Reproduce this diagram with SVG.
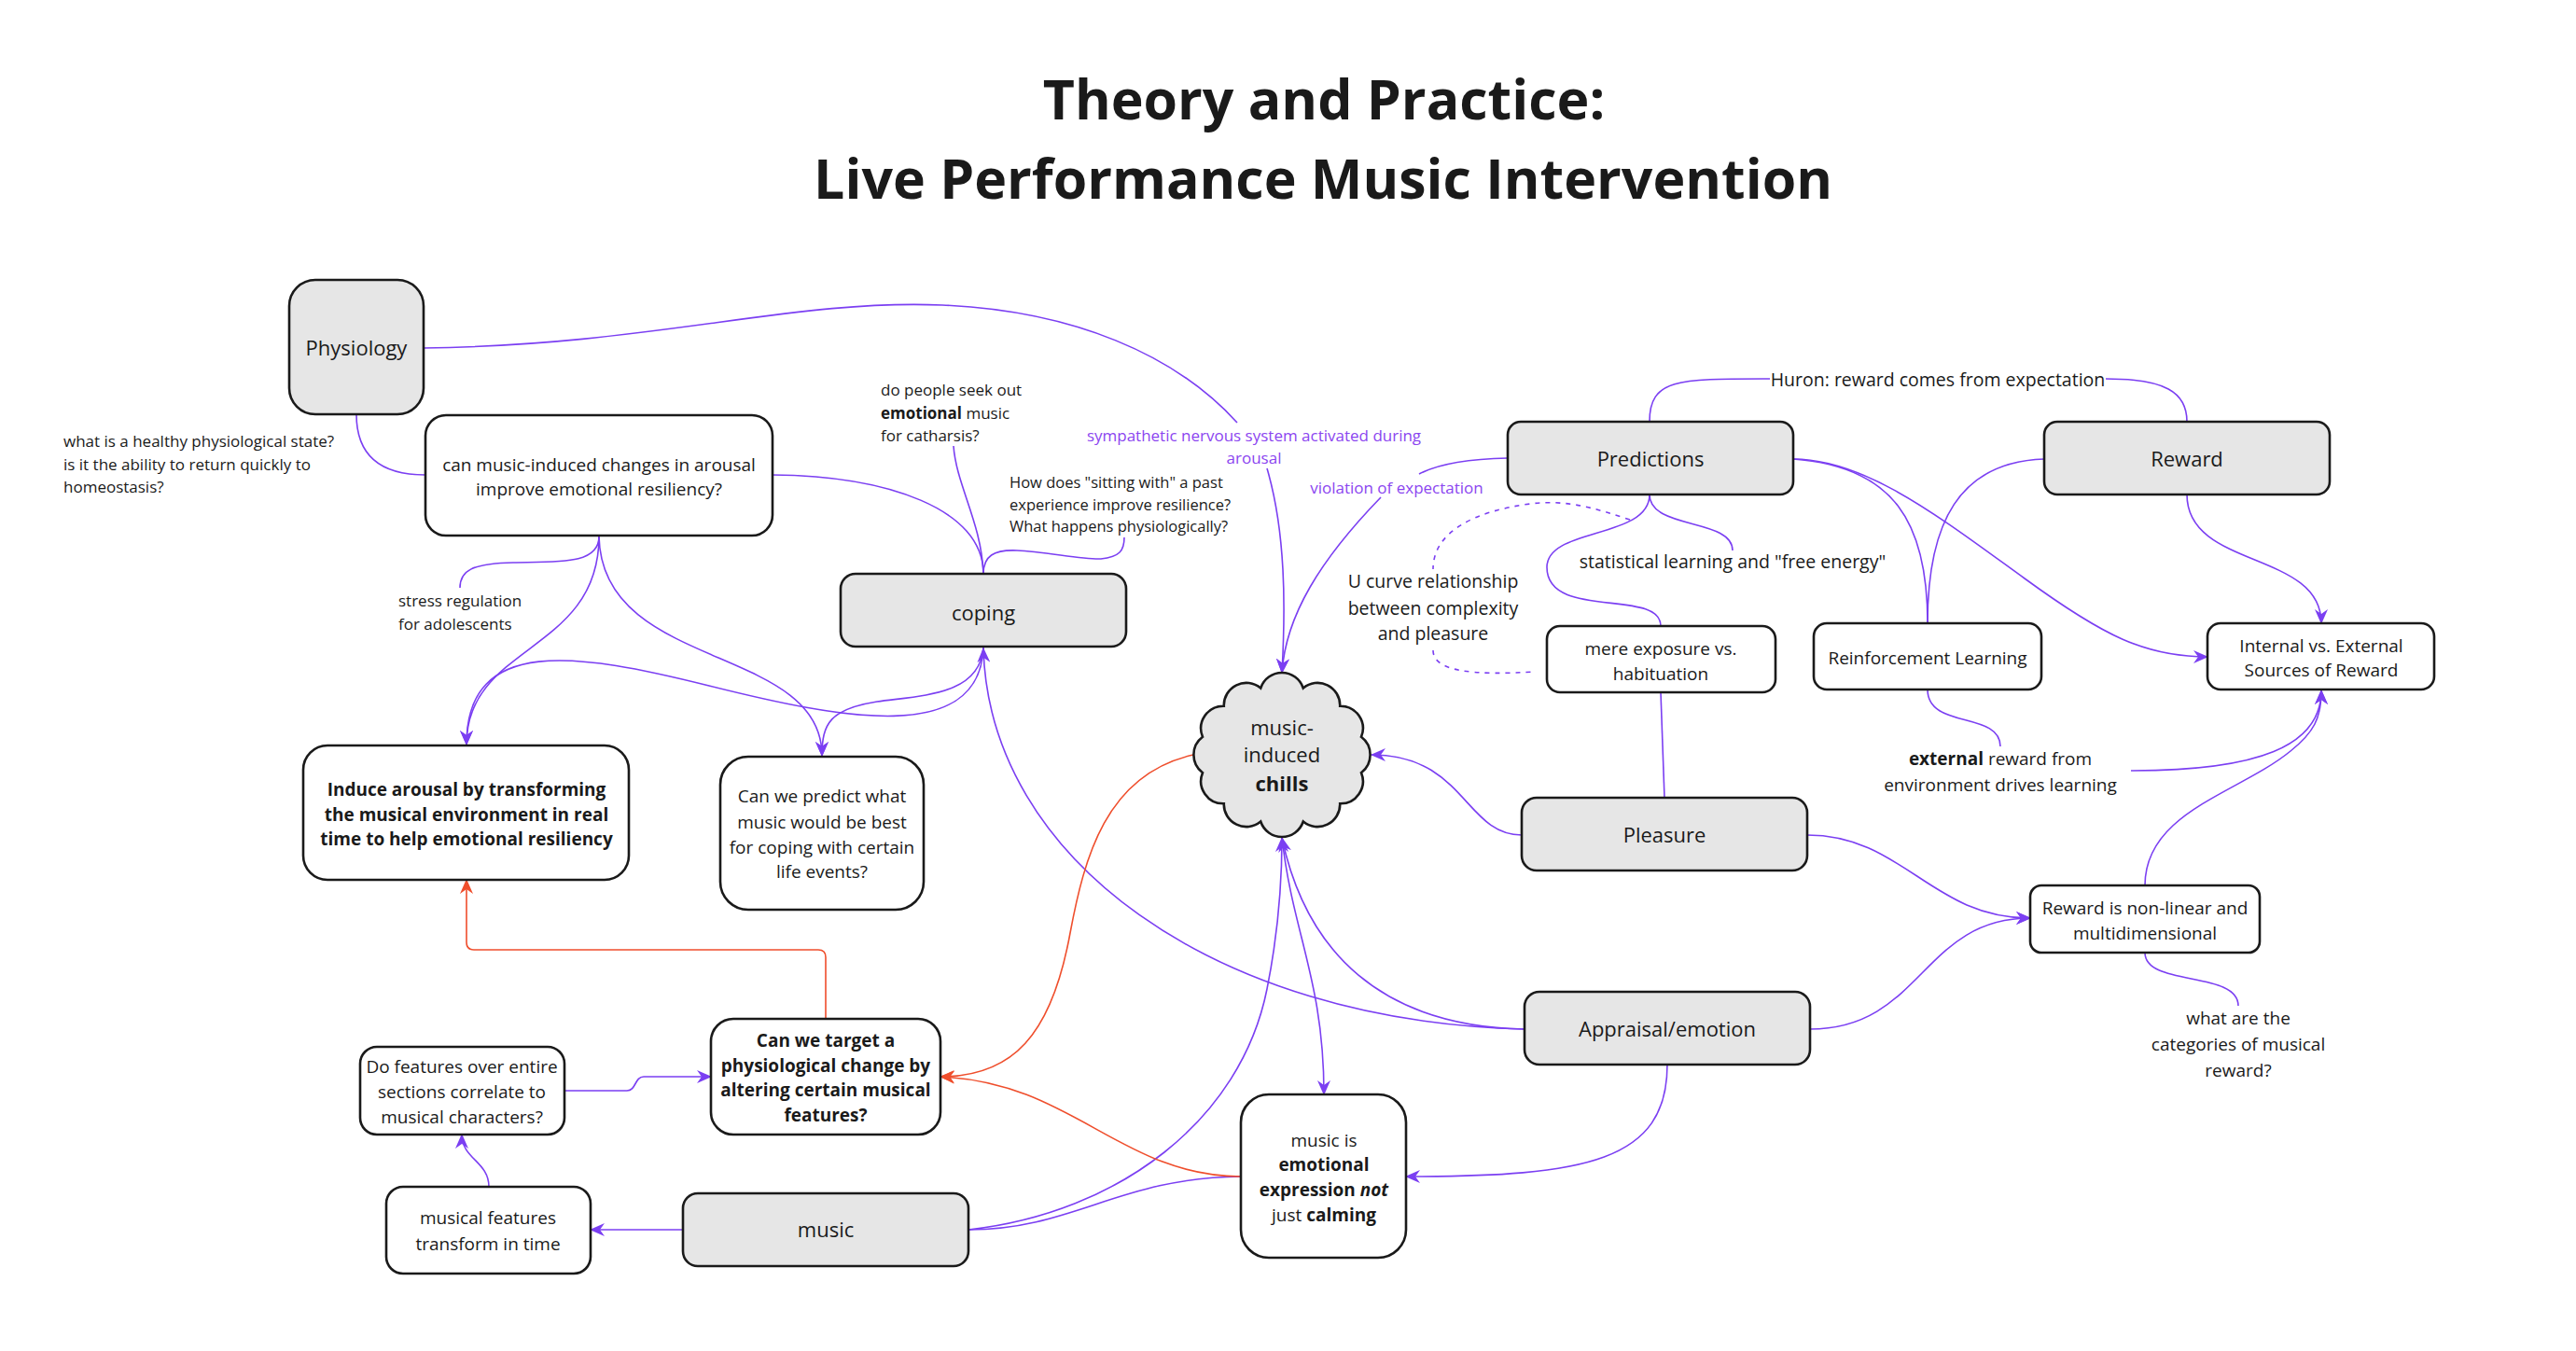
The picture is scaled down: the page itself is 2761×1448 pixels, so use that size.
<svg xmlns="http://www.w3.org/2000/svg" width="2761" height="1448" viewBox="0 0 2761 1448">
<defs>
<style>
.n{fill:#ffffff;stroke:#1a1a1a;stroke-width:2.6}
.g{fill:#e6e6e6;stroke:#1a1a1a;stroke-width:2.6}
.c{fill:none;stroke:#7b3ff2;stroke-width:1.6}
.r{fill:none;stroke:#ef4e2c;stroke-width:1.6}
.d{fill:none;stroke:#7b3ff2;stroke-width:1.6;stroke-dasharray:5 6}
.a{marker-end:url(#ap)}
.ar{marker-end:url(#ar)}
text{font-family:"Open Sans","Noto Sans",sans-serif;fill:#1a1a1a}
.t22{font-size:22px;text-anchor:middle}
.t19{font-size:19px;text-anchor:middle}
.t195{font-size:19.5px;text-anchor:middle}
.t17{font-size:17px}
.t165{font-size:16.5px}
.p{fill:#8b45f0}
.b{font-weight:bold}
.title{font-size:59px;font-weight:bold;text-anchor:middle}
</style>
<marker id="ap" viewBox="0 0 16 14" refX="15" refY="7" markerWidth="16" markerHeight="14" markerUnits="userSpaceOnUse" orient="auto"><path d="M0,0 L16,7 L0,14 L5,7 Z" fill="#7b3ff2"/></marker>
<marker id="ar" viewBox="0 0 16 14" refX="15" refY="7" markerWidth="16" markerHeight="14" markerUnits="userSpaceOnUse" orient="auto"><path d="M0,0 L16,7 L0,14 L5,7 Z" fill="#ef4e2c"/></marker>
</defs>
<rect width="2761" height="1448" fill="#ffffff"/>

<g id="title">
<text class="title" x="1419" y="128">Theory and Practice:</text>
<text class="title" x="1418" y="213">Live Performance Music Intervention</text>
</g>

<g id="connectors">
<path class="c" d="M382,444 C382,490 410,509 456,509"/>
<path class="c" d="M454,373 C700,370 850,320 1010,327 C1150,333 1260,380 1326,453"/>
<path class="c a" d="M1358,502 C1378,570 1378,650 1374,721"/>
<path class="c" d="M1616,491 C1570,492 1540,498 1521,508"/>
<path class="c a" d="M1480,533 C1415,600 1378,660 1374,721"/>
<path class="c" d="M828,509 C950,510 1054,545 1054,615"/>
<path class="c" d="M1054,615 C1052,560 1025,520 1022,478"/>
<path class="c" d="M1054,615 C1054,596 1065,589 1090,590 C1120,591 1160,600 1180,599 C1200,597 1205,590 1205,576"/>
<path class="c" d="M642,575 C642,605 600,602 550,603 C505,604 493,612 493,630"/>
<path class="c a" d="M642,575 C642,700 500,690 500,798"/>
<path class="c a" d="M642,575 C645,720 881,690 881,810"/>
<path class="c a" d="M1054,694 C1050,800 900,770 760,735 C620,700 500,680 500,798"/>
<path class="c a" d="M1054,694 C1050,745 990,745 940,752 C890,760 881,775 881,810"/>
<path class="c a" d="M1634,1103 C1300,1095 1060,920 1054,695"/>
<path class="c a" d="M1634,1103 C1480,1100 1400,1020 1374,898"/>
<path class="c a" d="M1631,895 C1570,895 1570,809 1470,809"/>
<path class="c" d="M1780,742 L1784,855"/>
<path class="c" d="M1768,530 C1768,578 1658,565 1658,608 C1658,665 1780,630 1780,671"/>
<path class="c" d="M1768,530 C1768,568 1857,555 1857,590"/>
<path class="c" d="M1768,452 C1768,405 1800,406 1897,406"/>
<path class="c" d="M2257,406 C2320,406 2344,420 2344,452"/>
<path class="c a" d="M1922,492 C2000,492 2080,555 2170,620 C2255,682 2300,704 2366,704"/>
<path class="c" d="M1922,492 C2030,500 2066,560 2066,668"/>
<path class="c" d="M2191,492 C2100,495 2066,560 2066,668"/>
<path class="c a" d="M2344,530 C2344,610 2488,590 2488,668"/>
<path class="c" d="M2066,739 C2066,782 2144,762 2144,800"/>
<path class="c a" d="M2284,826 C2420,826 2488,800 2488,740"/>
<path class="c a" d="M2299,949 C2299,870 2400,850 2455,805 C2480,785 2488,770 2488,740"/>
<path class="c a" d="M1937,895 C2040,895 2070,984 2176,984"/>
<path class="c a" d="M1940,1103 C2060,1103 2060,984 2176,984"/>
<path class="c" d="M2299,1021 C2299,1058 2399,1040 2399,1078"/>
<path class="c a" d="M1787,1141 C1787,1245 1700,1261 1507,1261"/>
<path class="c a" d="M1374,897 C1385,1000 1419,1050 1419,1173"/>
<path class="c a" d="M1038,1318 C1200,1300 1330,1200 1358,1060 C1370,1000 1374,950 1374,898"/>
<path class="c" d="M1330,1261 C1200,1262 1150,1318 1038,1318"/>
<path class="c a" d="M732,1318 L633,1318"/>
<path class="c a" d="M524,1272 C524,1245 495,1242 495,1216"/>
<path class="c a" d="M605,1169 L672,1169 C682,1169 680,1154 690,1154 L762,1154"/>
<path class="r ar" d="M885,1092 L885,1026 Q885,1018 877,1018 L508,1018 Q500,1018 500,1010 L500,943"/>
<path class="r ar" d="M1279,809 C1185,830 1162,920 1147,1000 C1127,1110 1085,1154 1008,1154"/>
<path class="r ar" d="M1330,1261 C1200,1260 1150,1160 1008,1154"/>
<path class="d" d="M1747,557 C1710,545 1680,535 1640,540 C1580,548 1536,570 1536,610"/>
<path class="d" d="M1536,697 C1536,720 1580,724 1645,720"/>
</g>

<g id="physiology"><rect class="g" x="310" y="300" width="144" height="144" rx="28"/><text class="t22" x="382" y="381">Physiology</text></g>
<g id="can-music"><rect class="n" x="456" y="445" width="372" height="129" rx="22"/><text class="t19" x="642" y="505">can music-induced changes in arousal</text><text class="t19" x="642" y="531">improve emotional resiliency?</text></g>
<g id="coping"><rect class="g" x="901" y="615" width="306" height="78" rx="16"/><text class="t22" x="1054" y="665">coping</text></g>
<g id="induce"><rect class="n" x="325" y="799" width="349" height="144" rx="26"/><text class="t19 b" x="500" y="853">Induce arousal by transforming</text><text class="t19 b" x="500" y="880">the musical environment in real</text><text class="t19 b" x="500" y="906">time to help emotional resiliency</text></g>
<g id="can-predict"><rect class="n" x="772" y="811" width="218" height="164" rx="30"/><text class="t19" x="881" y="860">Can we predict what</text><text class="t19" x="881" y="888">music would be best</text><text class="t19" x="881" y="915">for coping with certain</text><text class="t19" x="881" y="941">life events?</text></g>
<g id="predictions"><rect class="g" x="1616" y="452" width="306" height="78" rx="14"/><text class="t22" x="1769" y="500">Predictions</text></g>
<g id="reward"><rect class="g" x="2191" y="452" width="306" height="78" rx="14"/><text class="t22" x="2344" y="500">Reward</text></g>
<g id="mere-exposure"><rect class="n" x="1658" y="671" width="245" height="71" rx="14"/><text class="t19" x="1780" y="702">mere exposure vs.</text><text class="t19" x="1780" y="729">habituation</text></g>
<g id="reinforcement"><rect class="n" x="1944" y="668" width="244" height="71" rx="14"/><text class="t19" x="2066" y="712">Reinforcement Learning</text></g>
<g id="internal-external"><rect class="n" x="2366" y="668" width="243" height="71" rx="14"/><text class="t19" x="2488" y="699">Internal vs. External</text><text class="t19" x="2488" y="725">Sources of Reward</text></g>
<g id="pleasure"><rect class="g" x="1631" y="855" width="306" height="78" rx="16"/><text class="t22" x="1784" y="903">Pleasure</text></g>
<g id="appraisal"><rect class="g" x="1634" y="1063" width="306" height="78" rx="16"/><text class="t22" x="1787" y="1111">Appraisal/emotion</text></g>
<g id="non-linear"><rect class="n" x="2176" y="949" width="246" height="72" rx="12"/><text class="t19" x="2299" y="980">Reward is non-linear and</text><text class="t19" x="2299" y="1007">multidimensional</text></g>
<g id="can-target"><rect class="n" x="762" y="1092" width="246" height="124" rx="24"/><text class="t19 b" x="885" y="1122">Can we target a</text><text class="t19 b" x="885" y="1149">physiological change by</text><text class="t19 b" x="885" y="1175">altering certain musical</text><text class="t19 b" x="885" y="1202">features?</text></g>
<g id="do-features"><rect class="n" x="386" y="1122" width="219" height="94" rx="18"/><text class="t19" x="495" y="1150">Do features over entire</text><text class="t19" x="495" y="1177">sections correlate to</text><text class="t19" x="495" y="1204">musical characters?</text></g>
<g id="musical-features"><rect class="n" x="414" y="1272" width="219" height="93" rx="18"/><text class="t19" x="523" y="1312">musical features</text><text class="t19" x="523" y="1340">transform in time</text></g>
<g id="music"><rect class="g" x="732" y="1279" width="306" height="78" rx="16"/><text class="t22" x="885" y="1326">music</text></g>
<g id="music-is"><rect class="n" x="1330" y="1173" width="177" height="175" rx="30"/><text class="t19" x="1419" y="1229">music is</text><text class="t19 b" x="1419" y="1255">emotional</text><text class="t19" x="1419" y="1282"><tspan font-weight="bold">expression </tspan><tspan font-weight="bold" font-style="italic">not</tspan></text><text class="t19" x="1419" y="1309">just <tspan font-weight="bold">calming</tspan></text></g>
<g id="chills"><path class="g" d="M1351.2,737.5 A24,24 0 0 1 1396.8,737.5 A24,24 0 0 1 1436.2,756.7 A24,24 0 0 1 1459,789.8 A24,24 0 0 1 1459,828.2 A24,24 0 0 1 1436.2,861.3 A24,24 0 0 1 1396.8,880.5 A24,24 0 0 1 1351.2,880.5 A24,24 0 0 1 1311.8,861.3 A24,24 0 0 1 1289,828.2 A24,24 0 0 1 1289,789.8 A24,24 0 0 1 1311.8,756.7 A24,24 0 0 1 1351.2,737.5 Z"/><text class="t22" x="1374" y="788">music-</text><text class="t22" x="1374" y="817">induced</text><text class="t22 b" x="1374" y="848">chills</text></g>

<g id="labels">
<text class="t17" x="68" y="479">what is a healthy physiological state?</text>
<text class="t17" x="68" y="504">is it the ability to return quickly to</text>
<text class="t17" x="68" y="528">homeostasis?</text>
<text class="t17" x="944" y="424">do people seek out</text>
<text class="t17" x="944" y="449"><tspan font-weight="bold">emotional</tspan> music</text>
<text class="t17" x="944" y="473">for catharsis?</text>
<text class="t165" x="1082" y="523">How does "sitting with" a past</text>
<text class="t165" x="1082" y="547">experience improve resilience?</text>
<text class="t165" x="1082" y="570">What happens physiologically?</text>
<text class="t17 p" x="1344" y="473" text-anchor="middle">sympathetic nervous system activated during</text>
<text class="t17 p" x="1344" y="497" text-anchor="middle">arousal</text>
<text class="t17 p" x="1497" y="529" text-anchor="middle">violation of expectation</text>
<text class="t195" x="1536" y="630">U curve relationship</text>
<text class="t195" x="1536" y="659">between complexity</text>
<text class="t195" x="1536" y="686">and pleasure</text>
<text class="t195" x="1857" y="609">statistical learning and "free energy"</text>
<text class="t195" x="2077" y="414">Huron: reward comes from expectation</text>
<text class="t19" x="2144" y="820"><tspan font-weight="bold">external</tspan> reward from</text>
<text class="t19" x="2144" y="848">environment drives learning</text>
<text class="t19" x="2399" y="1098">what are the</text>
<text class="t19" x="2399" y="1126">categories of musical</text>
<text class="t19" x="2399" y="1154">reward?</text>
<text class="t17" x="427" y="650">stress regulation</text>
<text class="t17" x="427" y="675">for adolescents</text>
</g>
</svg>
